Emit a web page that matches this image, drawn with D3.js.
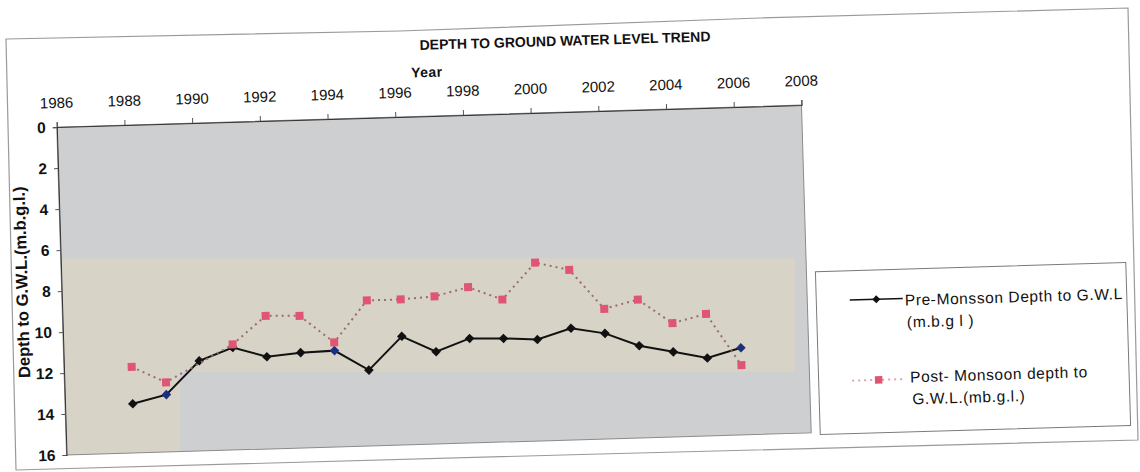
<!DOCTYPE html>
<html>
<head>
<meta charset="utf-8">
<script src="https://cdn.jsdelivr.net/npm/d3@7"></script>
<style>
  html, body { margin: 0; padding: 0; background: #fff; }
  svg { display: block; font-family: "Liberation Sans", Arial, sans-serif; }
</style>
</head>
<body>
<svg id="chart" width="1140" height="472"></svg>
<script>
// Depth to ground water level (m below ground level), by year
const preYears  = [1988, 1989, 1990, 1991, 1992, 1993, 1994, 1995, 1996, 1997,
                   1998, 1999, 2000, 2001, 2002, 2003, 2004, 2005, 2006];
const preDepth  = [13.6, 13.2, 11.6, 11.0, 11.5, 11.35, 11.3, 12.3, 10.7, 11.5,
                   10.9, 10.95, 11.05, 10.55, 10.85, 11.5, 11.85, 12.2, 11.75];
const postYears = [1988, 1989, 1991, 1992, 1993, 1994, 1995, 1996, 1997,
                   1998, 1999, 2000, 2001, 2002, 2003, 2004, 2005, 2006];
const postDepth = [11.8, 12.6, 10.85, 9.5, 9.55, 10.9, 8.9, 8.9, 8.8,
                   8.4, 9.05, 7.3, 7.7, 9.65, 9.25, 10.45, 10.05, 12.6];
// pre-monsoon points whose markers keep the navy fill
const navyYears = [1989, 1994, 2006];

const xTicks = [1986, 1988, 1990, 1992, 1994, 1996, 1998, 2000, 2002, 2004, 2006, 2008];
const yTicks = [0, 2, 4, 6, 8, 10, 12, 14, 16];

const titleText = "DEPTH TO GROUND WATER LEVEL TREND";
const xTitle = "Year";
const yTitle = "Depth to G.W.L.(m.b.g.l.)";
const seriesNames = [
  ["Pre-Monsson Depth to G.W.L", "(m.b.g l )"],
  ["Post- Monsoon depth to", "G.W.L.(mb.g.l.)"]
];

const W = 1140, H = 472;
const svg = d3.select("#chart");
svg.append("rect").attr("width", W).attr("height", H).attr("fill", "#fff");

// sheet outline (slightly skewed page)
const framePts = [[6, 39], [400, 31], [760, 18], [1128, 8], [1138, 440], [600, 454], [16, 470]];
svg.append("path")
  .attr("d", d3.line()(framePts) + "Z")
  .attr("fill", "none").attr("stroke", "#9a9a9a").attr("stroke-width", 1.2);

// whole chart sits a little tilted on the page
const tilt = -1.7, cx = 434, cy = 280;
const g = svg.append("g").attr("transform", `rotate(${tilt},${cx},${cy})`);

const plot = { left: 61.5, right: 806.5, top: 116, bottom: 444 };
const x = d3.scaleLinear().domain([1986, 2008]).range([plot.left, plot.right]);
const y = d3.scaleLinear().domain([0, 16]).range([plot.top, plot.bottom]);

svg.append("defs").append("clipPath").attr("id", "plotClip")
  .append("rect")
  .attr("x", plot.left).attr("y", plot.top)
  .attr("width", plot.right - plot.left).attr("height", plot.bottom - plot.top);

// plot background
g.append("rect")
  .attr("x", plot.left).attr("y", plot.top)
  .attr("width", plot.right - plot.left).attr("height", plot.bottom - plot.top)
  .attr("fill", "#cecfd0");

// beige shading, level with the page
const shade = g.append("g").attr("clip-path", "url(#plotClip)")
  .append("g").attr("transform", `rotate(${-tilt},${cx},${cy})`);
shade.append("rect").attr("x", 40).attr("y", 258.3).attr("width", 755).attr("height", 113.4)
  .attr("fill", "#d7d3c6");
shade.append("rect").attr("x", 40).attr("y", 371.7).attr("width", 140).attr("height", 110)
  .attr("fill", "#d7d3c6");

// plot border
g.append("rect")
  .attr("x", plot.left).attr("y", plot.top)
  .attr("width", plot.right - plot.left).attr("height", plot.bottom - plot.top)
  .attr("fill", "none").attr("stroke", "#8a8a8a").attr("stroke-width", 1);

// axes
const xAxis = g.append("g").attr("transform", `translate(0,${plot.top})`)
  .call(d3.axisTop(x).tickValues(xTicks).tickFormat(d3.format("d")).tickSize(5).tickPadding(14));
xAxis.select(".domain").attr("stroke", "#333");
xAxis.selectAll(".tick line").attr("stroke", "#555");
xAxis.selectAll("text").attr("font-size", 15).attr("fill", "#111")
  .attr("font-family", "Liberation Sans, Arial, sans-serif");

const yAxis = g.append("g").attr("transform", `translate(${plot.left},0)`)
  .call(d3.axisLeft(y).tickValues(yTicks).tickSize(4).tickPadding(7));
yAxis.select(".domain").attr("stroke", "#333");
yAxis.selectAll(".tick line").attr("stroke", "#555");
yAxis.selectAll("text").attr("font-size", 15.5).attr("font-weight", "bold").attr("fill", "#111")
  .attr("font-family", "Liberation Sans, Arial, sans-serif");

// titles
g.append("text").attr("x", 572).attr("y", 44.6).attr("text-anchor", "middle")
  .attr("dominant-baseline", "central")
  .attr("font-size", 14).attr("font-weight", "bold").attr("letter-spacing", 0)
  .attr("fill", "#111").text(titleText);
g.append("text").attr("x", 433).attr("y", 72).attr("text-anchor", "middle")
  .attr("dominant-baseline", "central")
  .attr("font-size", 14).attr("font-weight", "bold").attr("letter-spacing", 0.5)
  .attr("fill", "#111").text(xTitle);
g.append("text").attr("transform", "translate(21.5,270) rotate(-90)")
  .attr("text-anchor", "middle").attr("dominant-baseline", "central")
  .attr("font-size", 16.5).attr("font-weight", "bold").attr("fill", "#111").text(yTitle);

// series
const pre = preYears.map((yr, i) => ({ year: yr, depth: preDepth[i] }));
const post = postYears.map((yr, i) => ({ year: yr, depth: postDepth[i] }));
const line = d3.line().x(d => x(d.year)).y(d => y(d.depth));

const pink = "#df5573";
const diamond = d3.symbol(d3.symbolSquare, 46);
const square = d3.symbol(d3.symbolSquare, 64);

g.append("path").datum(pre).attr("d", line)
  .attr("fill", "none").attr("stroke", "#111").attr("stroke-width", 2);
g.selectAll(".pre-pt").data(pre).join("path").attr("class", "pre-pt")
  .attr("d", diamond)
  .attr("transform", d => `translate(${x(d.year)},${y(d.depth)}) rotate(45)`)
  .attr("fill", d => navyYears.includes(d.year) ? "#1c2f7a" : "#111");

g.append("path").datum(post).attr("d", line)
  .attr("fill", "none").attr("stroke", "#9c6b72").attr("stroke-width", 2)
  .attr("stroke-dasharray", "2,4");
g.selectAll(".post-pt").data(post).join("path").attr("class", "post-pt")
  .attr("d", square)
  .attr("transform", d => `translate(${x(d.year)},${y(d.depth)})`)
  .attr("fill", pink);

// legend
const lg = g.append("g");
lg.append("rect").attr("x", 815.5).attr("y", 283).attr("width", 310.5).attr("height", 163)
  .attr("fill", "#fff").attr("stroke", "#7a7a7a").attr("stroke-width", 1);

lg.append("line").attr("x1", 849).attr("x2", 902).attr("y1", 312.4).attr("y2", 312.4)
  .attr("stroke", "#111").attr("stroke-width", 1.5);
lg.append("path").attr("d", d3.symbol(d3.symbolSquare, 32))
  .attr("transform", "translate(875.5,312.4) rotate(45)").attr("fill", "#111");

lg.append("line").attr("x1", 849).attr("x2", 902).attr("y1", 393).attr("y2", 393)
  .attr("stroke", "#e2a3ad").attr("stroke-width", 2).attr("stroke-dasharray", "2,4");
lg.append("path").attr("d", d3.symbol(d3.symbolSquare, 56))
  .attr("transform", "translate(875.5,393)").attr("fill", pink);

const legendText = [
  { x: 904, y: 314, lines: seriesNames[0] },
  { x: 907, y: 391, lines: seriesNames[1] }
];
legendText.forEach(t => {
  t.lines.forEach((s, j) => {
    lg.append("text").attr("x", t.x + j * 1.5).attr("y", t.y + j * 22)
      .attr("dominant-baseline", "central")
      .attr("font-size", 15.5).attr("letter-spacing", 0.6).attr("fill", "#111").text(s);
  });
});
</script>
</body>
</html>
